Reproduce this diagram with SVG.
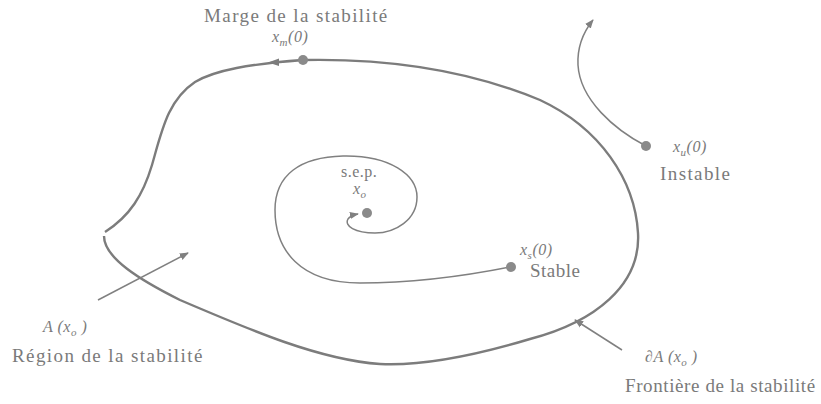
<svg xmlns="http://www.w3.org/2000/svg" width="821" height="404" viewBox="0 0 821 404">
<style>
.t{font-family:"Liberation Serif","Times New Roman",serif;font-size:19px;fill:#7a7a7a;letter-spacing:1.4px}
.m{font-family:"Liberation Serif","Times New Roman",serif;font-size:16px;font-style:italic;fill:#7a7a7a;letter-spacing:0.5px}
.s{font-size:11px}
.b{fill:none;stroke:#7c7c7c;stroke-width:2.4}
.c{fill:none;stroke:#808080;stroke-width:1.5}
.d{fill:#8a8a8a}
</style>
<defs>
<marker id="ah" viewBox="0 0 10 10" refX="9" refY="5" markerWidth="9" markerHeight="9" markerUnits="userSpaceOnUse" orient="auto">
<path d="M0 1 L10 5 L0 9 Z" fill="#808080"/>
</marker>
</defs>
<g id="connectors">
<path id="boundary" class="b" d="M105 232 C130 216 143 195 152 165 C162 130 168 100 195 82 C215 70 250 64 303 60 C400 58 480 75 540 100 C600 128 635 180 638 233 C641 285 595 322 530 339 C470 357 420 366 380 364 C320 360 250 330 180 300 C140 280 104 258 104 236"/>
<path d="M268 62.5 L279 58.5 L279 66 Z" fill="#7c7c7c"/>
<path id="spiral" class="c" marker-end="url(#ah)" d="M510 267 C470 275 420 283 360 283 C300 283 275 250 275 210 C275 175 300 157 343 156 C390 155 417 175 417 197 C417 220 395 233 375 233 C355 233 344 226 348 219 C350 216 353 215 358 214"/>
<path id="unstable" class="c" marker-end="url(#ah)" d="M646 146 C615 130 580 100 578 65 C577 45 585 30 593 20"/>
<path id="arrowA" class="c" marker-end="url(#ah)" d="M98 300 L188 253"/>
<path id="arrowdA" class="c" marker-end="url(#ah)" d="M622 350 L575 320"/>
</g>
<g id="margin">
<circle class="d" cx="303" cy="60" r="5"/>
<text class="t" x="204" y="22">Marge de la stabilité</text>
<text class="m" x="272" y="42">x<tspan class="s" dy="4">m</tspan><tspan dy="-4">(0)</tspan></text>
</g>
<g id="unstable-point">
<circle class="d" cx="646" cy="146" r="5"/>
<text class="m" x="673" y="152">x<tspan class="s" dy="4">u</tspan><tspan dy="-4">(0)</tspan></text>
<text class="t" x="660" y="180">Instable</text>
</g>
<g id="sep">
<circle class="d" cx="367" cy="213" r="5"/>
<text class="t" x="341" y="177" style="font-size:16px;letter-spacing:0.5px">s.e.p.</text>
<text class="m" x="353" y="194">x<tspan class="s" dy="4">o</tspan></text>
</g>
<g id="stable-point">
<circle class="d" cx="511" cy="267" r="5"/>
<text class="m" x="520" y="255">x<tspan class="s" dy="4">s</tspan><tspan dy="-4">(0)</tspan></text>
<text class="t" x="530" y="277" style="letter-spacing:0.5px">Stable</text>
</g>
<g id="region">
<text class="m" x="43" y="332">A  (x<tspan class="s" dy="4">o</tspan><tspan dy="-4"> )</tspan></text>
<text class="t" x="12" y="362">Région de la stabilité</text>
</g>
<g id="frontier">
<text class="m" x="645" y="362">∂A  (x<tspan class="s" dy="4">o</tspan><tspan dy="-4"> )</tspan></text>
<text class="t" x="625" y="392" style="letter-spacing:0.6px">Frontière de la stabilité</text>
</g>
</svg>
